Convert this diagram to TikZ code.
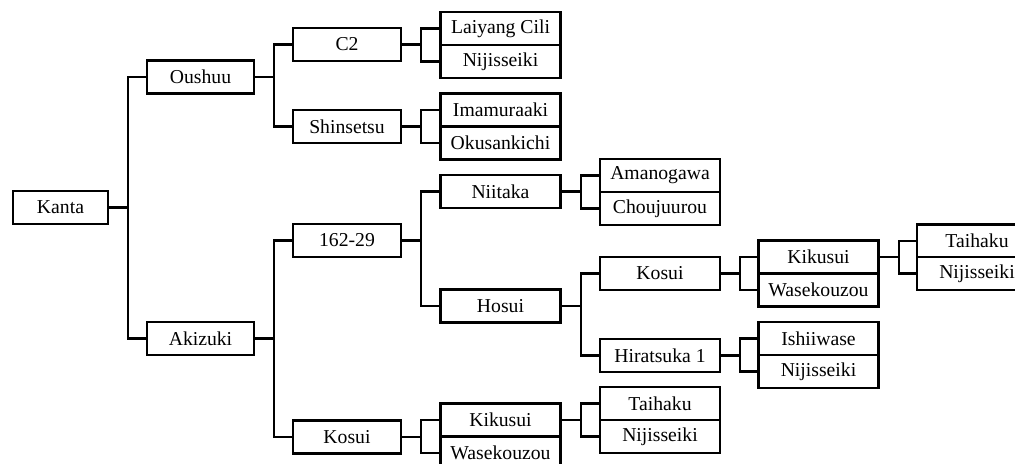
\documentclass[tikz,border=0pt]{standalone}
\usepackage{fontspec}
\setmainfont{Liberation Serif}
\usepackage{tikz}
\tikzset{
  cell/.style={draw=black, line width=1.7pt, fill=white, inner sep=0pt,
    minimum height=0.825cm, font=\fontsize{14}{16}\selectfont},
  colA/.style={cell, minimum width=2.375cm},
  colB/.style={cell, minimum width=2.675cm},
  colC/.style={cell, minimum width=2.7cm},
  colD/.style={cell, minimum width=3.0cm},
  link/.style={line width=1.6pt, line join=miter}
}

\begin{document}
\begin{tikzpicture}[x=0.025cm, y=-0.025cm]
				\clip (0,0) rectangle (1015,464);
				\fill[white] (0,0) rectangle (1015,464);
				
				% first generations
				\node[colA] (kanta) at (60.5,207.5) {Kanta};
				\node[colB] (oushuu) at (200.5,77) {Oushuu};
				\node[colB] (akizuki) at (200.5,338.5) {Akizuki};
				
				\node[colC] (ctwo) at (347,44.5) {C2};
				\node[colC] (shinsetsu) at (347,126.5) {Shinsetsu};
				\node[colC] (line16229) at (347,240.5) {162-29};
				\node[colC] (kosuiA) at (347,437) {Kosui};
				
				% third column
				\node[colD] (laiyang) at (500.5,28.5) {Laiyang Cili};
				\node[colD] (nijiA) at (500.5,61.5) {Nijisseiki};
				\node[colD] (imamura) at (500.5,110) {Imamuraaki};
				\node[colD] (okusan) at (500.5,143) {Okusankichi};
				\node[colD] (niitaka) at (500.5,191.5) {Niitaka};
				\node[colD] (hosui) at (500.5,306) {Hosui};
				\node[colD] (kikusuiA) at (500.5,420) {Kikusui};
				\node[colD] (wasekA) at (500.5,453) {Wasekouzou};
				
				% fourth column
				\node[colD] (amano) at (660,175.5) {Amanogawa};
				\node[colD] (chouju) at (660,208.5) {Choujuurou};
				\node[colD] (kosuiB) at (660,273.5) {Kosui};
				\node[colD] (hiratsuka) at (660,355.5) {Hiratsuka 1};
				\node[colD] (taihakuA) at (660,403.5) {Taihaku};
				\node[colD] (nijiB) at (660,436.5) {Nijisseiki};
				
				% fifth and sixth column
				\node[colD] (kikusuiB) at (818.5,257) {Kikusui};
				\node[colD] (wasekB) at (818.5,290) {Wasekouzou};
				\node[colD] (ishii) at (818.5,338.5) {Ishiiwase};
				\node[colD] (nijiC) at (818.5,371.5) {Nijisseiki};
				
				\node[colD] (taihakuB) at (977,241) {Taihaku};
				\node[colD] (nijiD) at (977,273.5) {Nijisseiki};
				
				% connectors
				\draw[link] (kanta.east) -- ++(19,0) |- (oushuu.west);
				\draw[link] (kanta.east) -- ++(19,0) |- (akizuki.west);
				
				\draw[link] (oushuu.east) -- ++(19,0) |- (ctwo.west);
				\draw[link] (oushuu.east) -- ++(19,0) |- (shinsetsu.west);
				\draw[link] (akizuki.east) -- ++(19,0) |- (line16229.west);
				\draw[link] (akizuki.east) -- ++(19,0) |- (kosuiA.west);
				
				\draw[link] (ctwo.east) -- ++(19,0) |- (laiyang.west);
				\draw[link] (ctwo.east) -- ++(19,0) |- (nijiA.west);
				\draw[link] (shinsetsu.east) -- ++(19,0) |- (imamura.west);
				\draw[link] (shinsetsu.east) -- ++(19,0) |- (okusan.west);
				\draw[link] (line16229.east) -- ++(19,0) |- (niitaka.west);
				\draw[link] (line16229.east) -- ++(19,0) |- (hosui.west);
				\draw[link] (kosuiA.east) -- ++(19,0) |- (kikusuiA.west);
				\draw[link] (kosuiA.east) -- ++(19,0) |- (wasekA.west);
				
				\draw[link] (niitaka.east) -- ++(19,0) |- (amano.west);
				\draw[link] (niitaka.east) -- ++(19,0) |- (chouju.west);
				\draw[link] (hosui.east) -- ++(19,0) |- (kosuiB.west);
				\draw[link] (hosui.east) -- ++(19,0) |- (hiratsuka.west);
				\draw[link] (kikusuiA.east) -- ++(19,0) |- (taihakuA.west);
				\draw[link] (kikusuiA.east) -- ++(19,0) |- (nijiB.west);
				
				\draw[link] (kosuiB.east) -- ++(19,0) |- (kikusuiB.west);
				\draw[link] (kosuiB.east) -- ++(19,0) |- (wasekB.west);
				\draw[link] (hiratsuka.east) -- ++(19,0) |- (ishii.west);
				\draw[link] (hiratsuka.east) -- ++(19,0) |- (nijiC.west);
				
				\draw[link] (kikusuiB.east) -- ++(19,0) |- (taihakuB.west);
				\draw[link] (kikusuiB.east) -- ++(19,0) |- (nijiD.west);
			\end{tikzpicture}
\end{document}
